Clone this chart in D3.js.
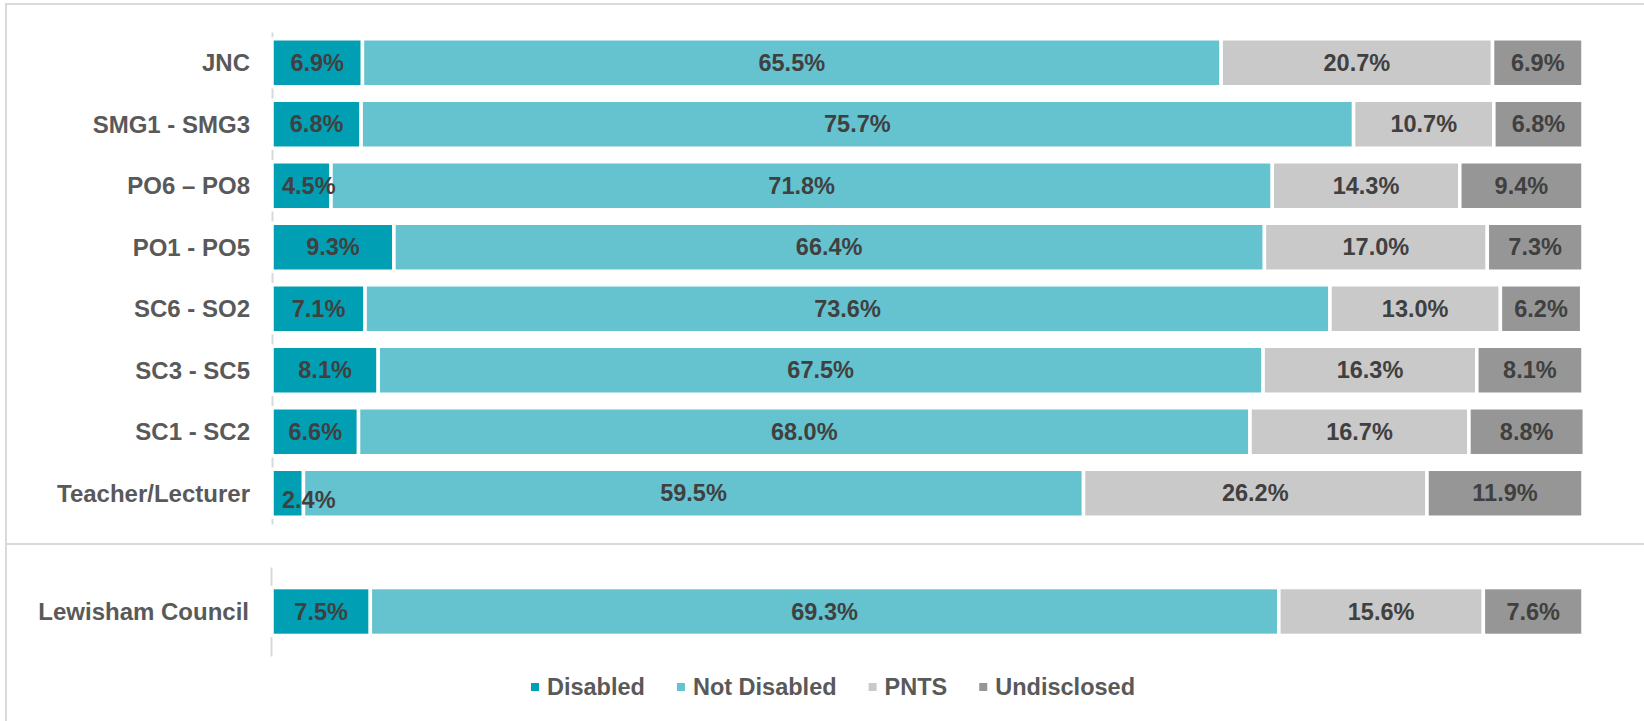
<!DOCTYPE html>
<html>
<head>
<meta charset="utf-8">
<script src="https://cdn.jsdelivr.net/npm/d3@7"></script>
<style>
    body { margin: 0; background: #fff; }
    svg { display: block; font-family: "Liberation Sans", Arial, sans-serif; font-weight: bold; }
</style>
</head>
<body>
<svg width="1644" height="721"></svg>
<script>
// grades (top block) and the council total (bottom block)
var categories = ["JNC", "SMG1 - SMG3", "PO6 – PO8", "PO1 - PO5", "SC6 - SO2", "SC3 - SC5", "SC1 - SC2", "Teacher/Lecturer"];
var disabled = [6.9, 6.8, 4.5, 9.3, 7.1, 8.1, 6.6, 2.4];
var notDisabled = [65.5, 75.7, 71.8, 66.4, 73.6, 67.5, 68.0, 59.5];
var pnts = [20.7, 10.7, 14.3, 17.0, 13.0, 16.3, 16.7, 26.2];
var undisclosed = [6.9, 6.8, 9.4, 7.3, 6.2, 8.1, 8.8, 11.9];

var totalCategory = ["Lewisham Council"];
var totalDisabled = [7.5];
var totalNotDisabled = [69.3];
var totalPnts = [15.6];
var totalUndisclosed = [7.6];

var seriesNames = ["Disabled", "Not Disabled", "PNTS", "Undisclosed"];
var seriesColors = ["#009fb4", "#65c3d0", "#c9c9c9", "#969696"];

const drawChart = () => {

    var svg = d3.select('svg');
    var frameColor = '#d9d9d9';

    // the two chart frames (they run off the right and bottom edge)
    svg.append('rect').attr('x', 6).attr('y', 4).attr('width', 1660).attr('height', 540)
        .attr('fill', 'none').attr('stroke', frameColor).attr('stroke-width', 2);
    svg.append('rect').attr('x', 6).attr('y', 544).attr('width', 1660).attr('height', 200)
        .attr('fill', 'none').attr('stroke', frameColor).attr('stroke-width', 2);

    var xScale = d3.scaleLinear()
        .domain([0, 100])
        .range([272, 1583]);

    var colorScale = d3.scaleOrdinal()
        .domain(seriesNames)
        .range(seriesColors);

    var stack = d3.stack().keys(seriesNames);

    const buildRows = (cats, a, b, c, d) => cats.map((name, i) => ({
        name: name, "Disabled": a[i], "Not Disabled": b[i], "PNTS": c[i], "Undisclosed": d[i]
    }));

    const drawBlock = (rows, yScale, axisX) => {
        var g = svg.append('g');
        var stacked = stack(rows);

        // category axis: only a light vertical line and the labels
        var yAxis = d3.axisLeft(yScale).tickSize(0).tickPadding(22);
        var axisG = g.append('g')
            .attr('transform', 'translate(' + [axisX, 0] + ')')
            .call(yAxis);
        axisG.select('.domain').attr('stroke', frameColor).attr('stroke-width', 2);
        axisG.selectAll('text')
            .attr('font-size', 24)
            .attr('font-family', '"Liberation Sans", Arial, sans-serif')
            .attr('font-weight', 'bold')
            .attr('fill', '#595959')
            .attr('dy', '0.35em');

        g.selectAll('g.layer')
            .data(stacked)
            .enter().append('g')
            .attr('class', 'layer')
            .attr('fill', d => colorScale(d.key))
            .selectAll('rect')
            .data(d => d)
            .enter().append('rect')
            .attr('x', d => xScale(d[0]))
            .attr('y', d => yScale(d.data.name))
            .attr('width', d => xScale(d[1]) - xScale(d[0]))
            .attr('height', yScale.bandwidth())
            .attr('stroke', '#fff')
            .attr('stroke-width', 3.5);

        // value labels on top of all bars, centred unless the segment is too narrow
        g.append('g')
            .selectAll('text')
            .data(stacked.flat())
            .enter().append('text')
            .attr('text-anchor', 'middle')
            .attr('font-size', 23.5)
            .attr('fill', '#404040')
            .attr('y', d => yScale(d.data.name) + yScale.bandwidth() / 2)
            .attr('dy', '0.35em')
            .text(d => (d[1] - d[0]).toFixed(1) + '%')
            .each(function (d) {
                var w = this.getComputedTextLength();
                var x0 = xScale(d[0]);
                var segW = xScale(d[1]) - x0;
                var x = x0 + segW / 2;
                if (w + 16 > segW) {
                    x = x0 + 10 + w / 2;
                    if (segW < 35) d3.select(this).attr('dy', '0.62em');
                }
                d3.select(this).attr('x', x);
            });
    };

    var topY = d3.scaleBand()
        .domain(categories)
        .range([32, 524])
        .paddingInner(0.22)
        .paddingOuter(0.11);

    var bottomY = d3.scaleBand()
        .domain(totalCategory)
        .range([567, 656])
        .paddingInner(0.22)
        .paddingOuter(0.335);

    drawBlock(buildRows(categories, disabled, notDisabled, pnts, undisclosed), topY, 272);
    drawBlock(buildRows(totalCategory, totalDisabled, totalNotDisabled, totalPnts, totalUndisclosed), bottomY, 271);

    // legend, centred
    var legend = svg.append('g');
    var items = legend.selectAll('g.item')
        .data(seriesNames)
        .enter().append('g')
        .attr('class', 'item');

    items.append('rect')
        .attr('width', 8)
        .attr('height', 8)
        .attr('y', 683)
        .attr('fill', d => colorScale(d));

    items.append('text')
        .attr('font-size', 23.5)
        .attr('fill', '#595959')
        .attr('y', 695)
        .text(d => d);

    var widths = [];
    items.select('text').each(function () { widths.push(this.getComputedTextLength()); });
    var gap = 32;
    var total = d3.sum(widths) + seriesNames.length * 16 + gap * (seriesNames.length - 1);
    var cursor = 833 - total / 2;
    items.each(function (d, i) {
        var item = d3.select(this);
        item.select('rect').attr('x', cursor);
        item.select('text').attr('x', cursor + 16);
        cursor += 16 + widths[i] + gap;
    });
};

drawChart();
</script>
</body>
</html>
